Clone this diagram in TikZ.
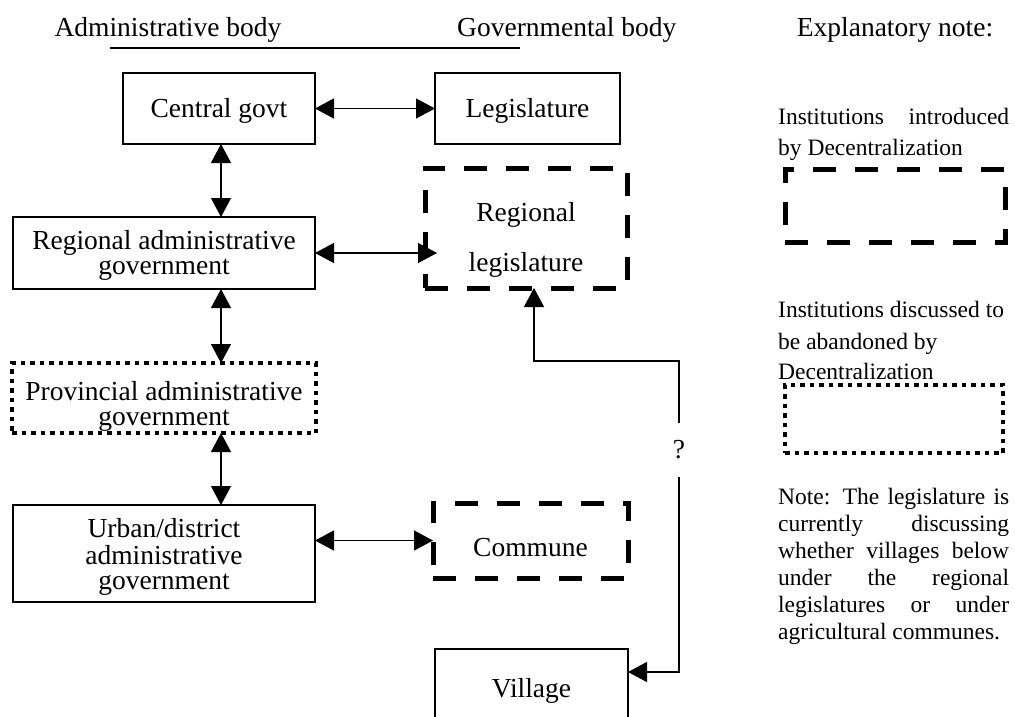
\documentclass[tikz,border=0pt]{standalone}
\usepackage{fontspec}
\setmainfont{Liberation Serif}
\usetikzlibrary{arrows.meta}

\newcommand\boxfont{\fontsize{27.5}{25}\selectfont}
\newcommand\keyfont{\fontsize{23.5}{27}\selectfont}
% lower a box's text by #1 without changing the box's own extent
\newcommand\lowered[2]{\raisebox{-#1}[\height][\depth]{\begin{tabular}{@{}c@{}}#2\end{tabular}}}

\tikzset{
  solidbox/.style={draw, line width=1.3pt, inner sep=0pt, outer sep=0pt, align=center, font=\boxfont},
  newbox/.style={draw, line width=5pt, dash pattern=on 23pt off 19pt, inner sep=0pt, outer sep=0pt, align=center, font=\boxfont},
  oldbox/.style={draw, line width=4.5pt, dash pattern=on 4.5pt off 5pt, inner sep=0pt, outer sep=0pt, align=center, font=\boxfont},
  head/.style={font=\boxfont, inner sep=0pt, anchor=base},
  keytext/.style={font=\keyfont, inner sep=0pt, anchor=base west},
  tip/.tip={Triangle[length=19pt,width=20pt]},
  link/.style={line width=1.3pt, tip-tip},
  wire/.style={line width=1.3pt},
}

\begin{document}
\begin{tikzpicture}[x=1pt,y=-1pt]
\clip (0,0) rectangle (1015,717);
\useasboundingbox (0,0) rectangle (1015,717);

% column headings
\node[head] (hadm) at (168,37) {Administrative body};
\node[head, anchor=base west] (hgov) at (457,37) {Governmental body};
\node[head] (hkey) at (895,37) {Explanatory note:};
\coordinate (ruleL) at (110,48);
\coordinate (ruleR) at (520,48);
\draw[wire] (ruleL) -- (ruleR);

% administrative column
\coordinate (spine) at (221,0);
\node[solidbox, minimum width=192pt, minimum height=71pt] (central) at (219,108.5) {\lowered{3pt}{Central govt}};
\node[solidbox, minimum width=302pt, minimum height=72pt] (regadm) at (164,253) {\lowered{3pt}{Regional administrative\\government}};
\node[oldbox, minimum width=304pt, minimum height=70pt] (prov) at (164,398)
  {\lowered{9pt}{Provincial administrative\\government}};
\node[solidbox, minimum width=302pt, minimum height=97pt] (urban) at (164,553.5) {\lowered{4pt}{Urban/district\\administrative\\government}};

% governmental column
\node[solidbox, minimum width=185pt, minimum height=71pt] (legis) at (527.5,108.5) {\lowered{3pt}{Legislature}};
\node[newbox, minimum width=202pt, minimum height=120pt] (reglegis) at (526,228)
  {\raisebox{-8pt}[\height][\depth]{\fontsize{27.5}{50}\selectfont\begin{tabular}{@{}c@{}}Regional\\legislature\end{tabular}}};
\node[newbox, minimum width=195pt, minimum height=75pt] (commune) at (530.5,540.5)
  {\lowered{11pt}{Commune}};
\node[solidbox, minimum width=193pt, minimum height=82pt] (village) at (531.5,690) {\lowered{2pt}{Village}};

% links between bodies
\draw[link] (central.east) -- (legis.west);
\draw[link] (central.south -| spine) -- (regadm.north -| spine);
\draw[link] (regadm.east) -- ([xshift=12pt]regadm.east -| reglegis.west);
\draw[link] (regadm.south -| spine) -- (prov.north -| spine);
\draw[link] (prov.south -| spine) -- (urban.north -| spine);
\draw[link] (urban.east |- commune.west) -- (commune.west);

% open question: where villages belong
\coordinate (bendA) at (534,361);
\coordinate (bendB) at (679,361);
\coordinate (bendC) at (679,672);
\node[font=\boxfont, inner sep=0pt, minimum height=54pt] (qmark) at (679,450) {?};
\draw[wire, tip-] (reglegis.south -| bendA) -- (bendA) -- (bendB) -- (qmark.north);
\draw[wire, -tip] (qmark.south) -- (bendC) -- (village.east |- bendC);

% key
\node[keytext] (k1) at (778,124) {\makebox[231pt][s]{Institutions introduced}};
\node[keytext] (k2) at (778,155) {by Decentralization};
\node[newbox, minimum width=220pt, minimum height=73pt] (keynew) at (895,205.5) {};
\node[keytext] (k3) at (778,317) {Institutions discussed to};
\node[keytext] (k4) at (778,349) {be abandoned by};
\node[keytext] (k5) at (778,379) {Decentralization};
\node[oldbox, minimum width=218pt, minimum height=68pt] (keyold) at (894,419) {};

% note
\node[keytext] (n1) at (778,504) {\makebox[231pt][s]{Note: The legislature is}};
\node[keytext] (n2) at (778,531) {\makebox[231pt][s]{currently discussing}};
\node[keytext] (n3) at (778,558) {\makebox[231pt][s]{whether villages below}};
\node[keytext] (n4) at (778,585) {\makebox[231pt][s]{under the regional}};
\node[keytext] (n5) at (778,612) {\makebox[231pt][s]{legislatures or under}};
\node[keytext] (n6) at (778,639) {agricultural communes.};
\end{tikzpicture}
\end{document}
